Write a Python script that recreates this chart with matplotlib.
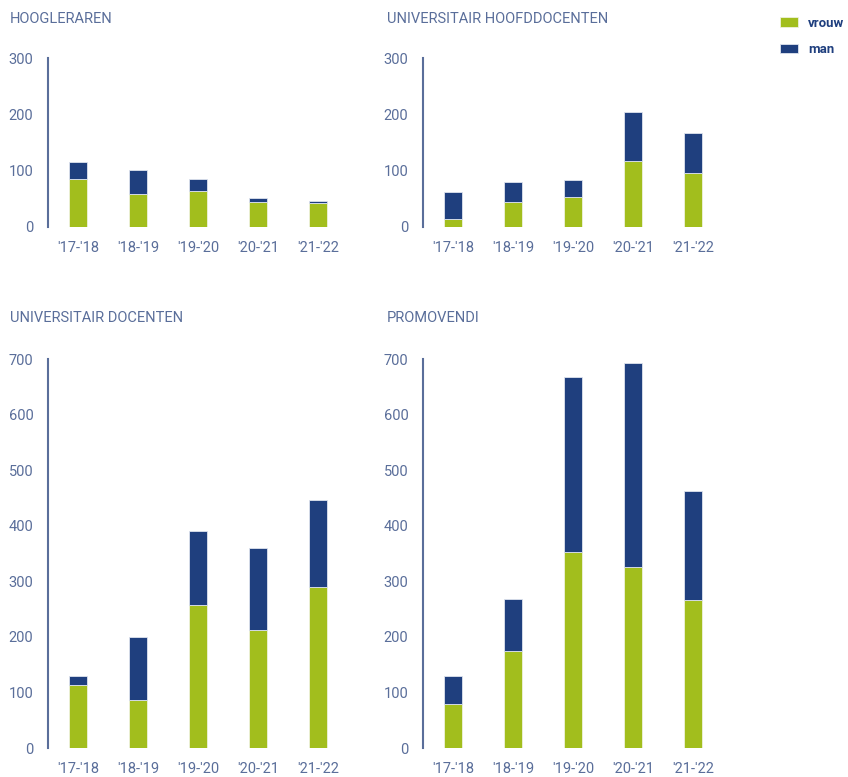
import numpy as np
import matplotlib
matplotlib.use("Agg")
import matplotlib.pyplot as plt

plt.rcParams['font.family'] = ['Roboto', 'DejaVu Sans']

# data
years = ["'17-'18", "'18-'19", "'19-'20", "'20-'21", "'21-'22"]

hoogleraren_vrouw = [86, 59, 64, 44, 43]
hoogleraren_man = [29, 42, 21, 7, 4]

uhd_vrouw = [14, 44, 53, 117, 95]
uhd_man = [49, 36, 30, 87, 72]

ud_vrouw = [113, 87, 257, 213, 290]
ud_man = [17, 113, 134, 146, 156]

promovendi_vrouw = [79, 174, 353, 325, 266]
promovendi_man = [50, 95, 314, 367, 196]

green = '#a2be1d'
navy = '#1f3f7e'
txt = '#5a6e9a'

W, H = 848, 777
fig = plt.figure(figsize=(W / 100, H / 100), dpi=100)


def px_axes(left, top, right, bottom):
    return fig.add_axes([left / W, 1 - bottom / H, (right - left) / W, (bottom - top) / H])


def draw_panel(ax, vrouw, man, ymax, step, title, tx, ty):
    x = np.arange(len(years))
    b1 = ax.bar(x, vrouw, width=0.3, color=green, edgecolor='#eef2dc', linewidth=0.6, label='vrouw')
    b2 = ax.bar(x, man, width=0.3, bottom=vrouw, color=navy, edgecolor='#dfe4ee', linewidth=0.6, label='man')
    ax.set_xlim(-0.5, 4.5)
    ax.set_ylim(0, ymax)
    ax.set_yticks(np.arange(0, ymax + 1, step))
    ax.set_xticks(x)
    ax.set_xticklabels(years)
    for s in ['top', 'right', 'bottom']:
        ax.spines[s].set_visible(False)
    ax.spines['left'].set_color(txt)
    ax.spines['left'].set_linewidth(1.5)
    ax.tick_params(axis='both', length=0, colors=txt, labelsize=10.5)
    ax.tick_params(axis='y', pad=10.5)
    ax.tick_params(axis='x', pad=10)
    ax.patch.set_alpha(0)
    fig.text(tx / W, 1 - ty / H, title, color=txt, fontsize=10.5, va='center', ha='left')
    return b1, b2


ax1 = px_axes(48, 58, 348, 227)
h1, h2 = draw_panel(ax1, hoogleraren_vrouw, hoogleraren_man, 300, 100, 'HOOGLERAREN', 10, 19)

ax2 = px_axes(423, 58, 723, 227)
draw_panel(ax2, uhd_vrouw, uhd_man, 300, 100, 'UNIVERSITAIR HOOFDDOCENTEN', 387, 19)

ax3 = px_axes(48, 359, 348, 748)
draw_panel(ax3, ud_vrouw, ud_man, 700, 100, 'UNIVERSITAIR DOCENTEN', 10, 318)

ax4 = px_axes(423, 359, 723, 748)
draw_panel(ax4, promovendi_vrouw, promovendi_man, 700, 100, 'PROMOVENDI', 387, 318)

leg = fig.legend([h1, h2], ['vrouw', 'man'], loc='upper left',
                 bbox_to_anchor=(773 / W, 1 - 10 / H), frameon=False, borderpad=0,
                 handlelength=1.4, handleheight=0.7, handletextpad=0.75,
                 labelspacing=1.0, prop={'size': 9.5, 'weight': 'bold'})
for t in leg.get_texts():
    t.set_color(navy)

fig.savefig('out.png', dpi=100)
